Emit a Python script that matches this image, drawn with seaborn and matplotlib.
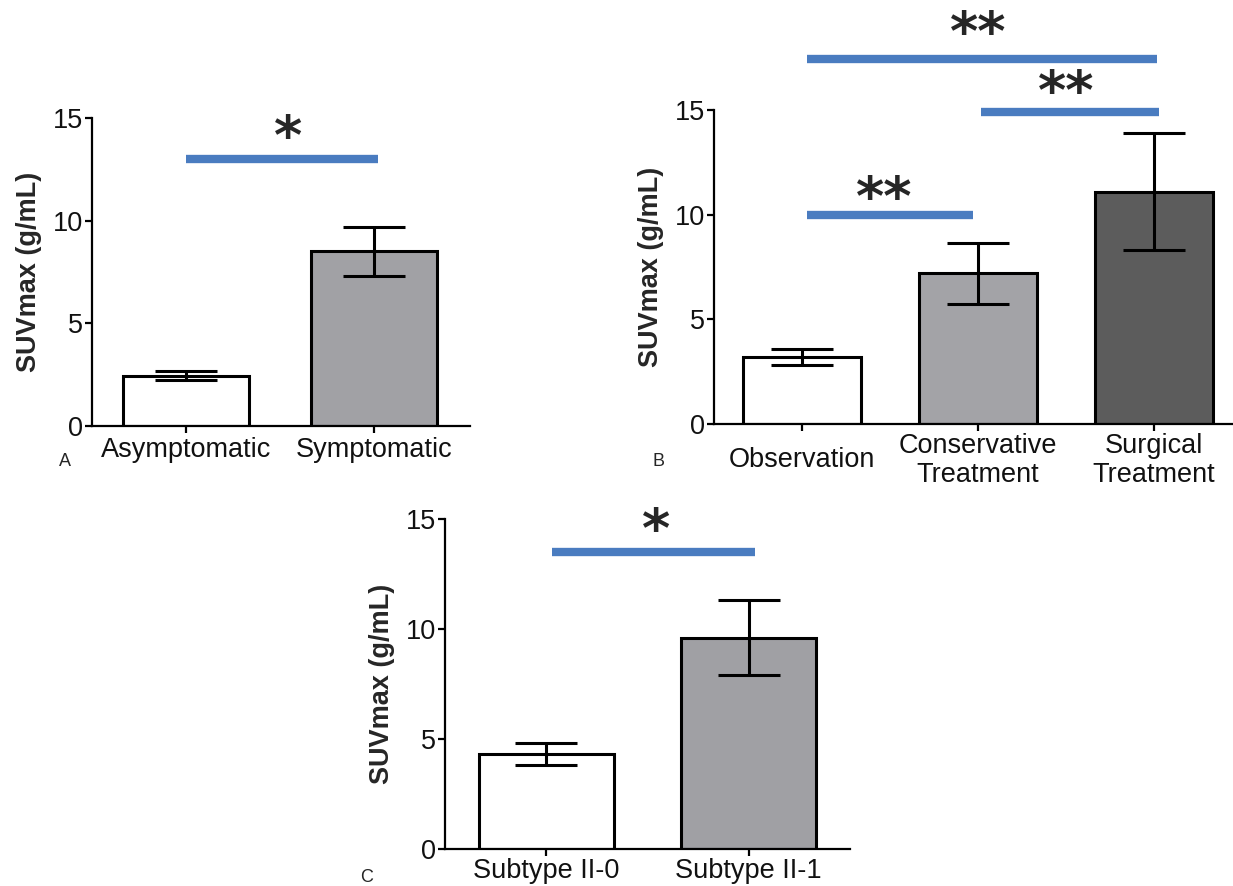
import numpy as np
import matplotlib
matplotlib.use("Agg")
import matplotlib.pyplot as plt
import matplotlib.transforms as mtransforms
import seaborn as sns

# ---- data ----
a_cats = ["Asymptomatic", "Symptomatic"]
a_vals = [2.45, 8.5]
a_errs = [0.22, 1.2]

b_cats = ["Observation", "Conservative\nTreatment", "Surgical\nTreatment"]
b_vals = [3.2, 7.2, 11.1]
b_errs = [0.4, 1.45, 2.8]

c_cats = ["Subtype II-0", "Subtype II-1"]
c_vals = [4.3, 9.6]
c_errs = [0.5, 1.7]

y_ticks = [0, 5, 10, 15]
y_label = "SUVmax (g/mL)"

# significance bars: (x0, x1, y, star_x, star_y, text)
a_sig = [(0.0, 1.02, 13.0, 0.54, 14.5, "*")]
b_sig = [(0.03, 0.97, 10.0, 0.47, 11.2, "**"),
         (1.02, 2.03, 14.9, 1.50, 16.3, "**"),
         (0.03, 2.02, 17.45, 1.0, 19.1, "**")]
c_sig = [(0.03, 1.03, 13.5, 0.54, 14.9, "*")]

sns.set_style("ticks")
plt.rcParams["font.family"] = ["Liberation Sans", "DejaVu Sans"]

fig = plt.figure(figsize=(12.33, 8.86), dpi=100)
fig.patch.set_facecolor("white")

BLUE = "#4a7cc0"
LW = 2.2
FS = 19.5
STAR_FS = 39


def panel(rect, cats, vals, errs, colors, sig, xmax):
    ax = fig.add_axes(rect)
    sns.barplot(x=cats, y=vals, hue=cats, palette=colors, legend=False,
                edgecolor="black", linewidth=LW, width=0.667,
                errorbar=None, ax=ax, saturation=1)
    ax.errorbar(np.arange(len(cats)), vals, yerr=errs, fmt="none",
                ecolor="black", elinewidth=LW, capsize=22, capthick=LW,
                zorder=5)
    ax.set_ylim(0, 15)
    ax.set_xlim(-0.5, xmax)
    ax.set_yticks(y_ticks)
    ax.set_ylabel(y_label, fontsize=FS, fontweight="bold", labelpad=8)
    ax.set_xlabel("")
    for s in ["top", "right"]:
        ax.spines[s].set_visible(False)
    for s in ["left", "bottom"]:
        ax.spines[s].set_linewidth(1.6)
        ax.spines[s].set_color("black")
    ax.tick_params(axis="both", labelsize=FS, width=1.6, length=5,
                   color="black", labelcolor="#111111")
    ax.tick_params(axis="y", pad=1.5)
    ax.set_facecolor("white")
    star_px = STAR_FS * 100 / 72.0
    star_tr = mtransforms.offset_copy(ax.transData, fig=fig,
                                      y=-0.47 * star_px, units="dots")
    for x0, x1, y, sx, sy, t in sig:
        ax.plot([x0, x1], [y, y], color=BLUE, lw=6, solid_capstyle="butt",
                clip_on=False)
        ax.text(sx, sy, t, ha="center", va="baseline", fontsize=STAR_FS,
                fontweight="bold", family="DejaVu Sans", transform=star_tr,
                clip_on=False)
    return ax


axA = panel([0.0746, 0.5192, 0.3066, 0.3476], a_cats, a_vals, a_errs,
            ["white", "#a1a1a5"], a_sig, 1.51)
axB = panel([0.579, 0.5214, 0.421, 0.354], b_cats, b_vals, b_errs,
            ["white", "#a3a3a7", "#5c5c5c"], b_sig, 2.45)
axC = panel([0.3609, 1 - 849 / 886, 0.3285, (849 - 519) / 886], c_cats,
            c_vals, c_errs, ["white", "#a0a0a4"], c_sig, 1.5)

axA.tick_params(axis="x", pad=3)
axC.tick_params(axis="x", pad=1.5)
axB.tick_params(axis="x", pad=21)
for lab in axB.get_xticklabels():
    lab.set_va("center")
    lab.set_linespacing(1.15)

fig.text(65 / 1233, 1 - 462 / 886, "A", fontsize=13, ha="center", va="center")
fig.text(658 / 1233, 1 - 462 / 886, "B", fontsize=13, ha="center", va="center")
fig.text(367 / 1233, 1 - 877 / 886, "C", fontsize=13, ha="center", va="center")

fig.savefig("out.png", dpi=100, facecolor="white")
